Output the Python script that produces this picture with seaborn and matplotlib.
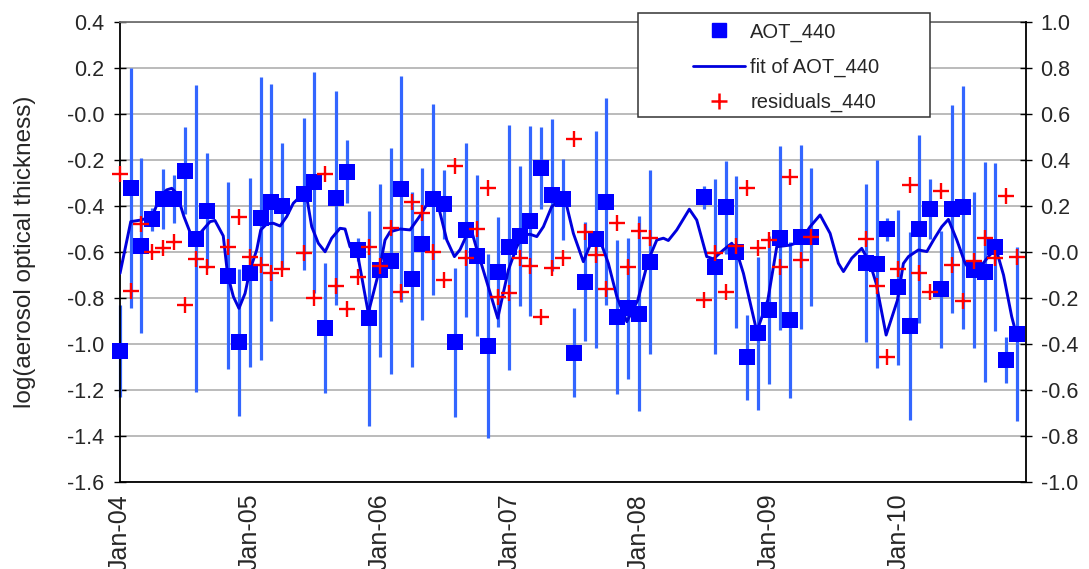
import numpy as np
import pandas as pd
import matplotlib
matplotlib.use("Agg")
import matplotlib.pyplot as plt
import matplotlib.dates as mdates
from matplotlib.lines import Line2D
from matplotlib.patches import Rectangle
from matplotlib.ticker import FixedLocator, NullFormatter, FormatStrFormatter
import seaborn as sns

# Monthly AOT_440 observations (first of month)
months = [
    "2004-01", "2004-02", "2004-03", "2004-04", "2004-05", "2004-06", "2004-07", "2004-08", "2004-09",
    "2004-11", "2004-12",
    "2005-01", "2005-02", "2005-03", "2005-04", "2005-06", "2005-07", "2005-08", "2005-09", "2005-10",
    "2005-11", "2005-12",
    "2006-01", "2006-02", "2006-03", "2006-04", "2006-05", "2006-06", "2006-07", "2006-08", "2006-09",
    "2006-10", "2006-11", "2006-12",
    "2007-01", "2007-02", "2007-03", "2007-04", "2007-05", "2007-06", "2007-07", "2007-08", "2007-09",
    "2007-10", "2007-11", "2007-12",
    "2008-01", "2008-02", "2008-07", "2008-08", "2008-09", "2008-10", "2008-11", "2008-12",
    "2009-01", "2009-02", "2009-03", "2009-04", "2009-05", "2009-10", "2009-11", "2009-12",
    "2010-01", "2010-02", "2010-03", "2010-04", "2010-05", "2010-06", "2010-07", "2010-08", "2010-09",
    "2010-10", "2010-11", "2010-12",
]

aot_440 = [
    -1.030, -0.323, -0.572, -0.457, -0.370, -0.370, -0.246, -0.543, -0.420,
    -0.703, -0.993,
    -0.690, -0.454, -0.384, -0.399, -0.348, -0.297, -0.932, -0.365, -0.251,
    -0.591, -0.888,
    -0.680, -0.639, -0.326, -0.719, -0.565, -0.370, -0.393, -0.993, -0.504,
    -0.617, -1.007, -0.688,
    -0.580, -0.530, -0.465, -0.236, -0.352, -0.370, -1.038, -0.729, -0.545,
    -0.381, -0.881, -0.845,
    -0.869, -0.645, -0.362, -0.664, -0.406, -0.601, -1.058, -0.954,
    -0.852, -0.541, -0.896, -0.533, -0.536, -0.649, -0.652, -0.500,
    -0.754, -0.921, -0.500, -0.413, -0.762, -0.413, -0.406, -0.678, -0.688,
    -0.580, -1.070, -0.958,
]

aot_err = [
    0.200, 0.522, 0.380, 0.050, 0.130, 0.105, 0.190, 0.667, 0.250,
    0.406, 0.320,
    0.410, 0.615, 0.515, 0.275, 0.330, 0.480, 0.283, 0.466, 0.136,
    0.050, 0.468,
    0.375, 0.490, 0.490, 0.380, 0.330, 0.415, 0.150, 0.325, 0.380,
    0.350, 0.400, 0.240,
    0.533, 0.306, 0.415, 0.178, 0.330, 0.176, 0.194, 0.260, 0.472,
    0.450, 0.335, 0.307,
    0.424, 0.400, 0.050, 0.380, 0.203, 0.330, 0.185, 0.334,
    0.320, 0.400, 0.340, 0.400, 0.300, 0.343, 0.453, 0.050,
    0.337, 0.410, 0.407, 0.130, 0.254, 0.453, 0.527, 0.338, 0.479,
    0.365, 0.100, 0.378,
]

residuals_440 = [
    0.339, -0.168, 0.120, 0.001, 0.016, 0.042, -0.230, -0.030, -0.064,
    0.020, 0.151,
    -0.020, -0.057, -0.090, -0.075, -0.006, -0.201, 0.339, -0.146, -0.248,
    -0.110, 0.023,
    -0.062, 0.103, -0.173, 0.219, 0.168, -0.001, -0.120, 0.375, -0.028,
    0.099, 0.277, -0.194,
    -0.180, -0.025, -0.059, -0.284, -0.068, -0.025, 0.491, 0.088, -0.013,
    -0.161, 0.128, -0.064,
    0.093, 0.062, -0.209, -0.003, -0.173, 0.028, 0.280, 0.019,
    0.052, -0.064, 0.328, -0.035, 0.067, 0.056, -0.148, -0.455,
    -0.073, 0.290, -0.090, -0.175, 0.267, -0.057, -0.212, -0.037, 0.062,
    -0.028, 0.243, -0.020,
]

# Fitted curve, sampled in decimal years
fit_years = [
    2004.000, 2004.083, 2004.162, 2004.249, 2004.308, 2004.360, 2004.399, 2004.437, 2004.493,
    2004.553, 2004.584, 2004.630, 2004.694, 2004.732, 2004.796, 2004.830, 2004.874, 2004.917,
    2004.964, 2005.002, 2005.054, 2005.085, 2005.131, 2005.182, 2005.234, 2005.285, 2005.336,
    2005.401, 2005.439, 2005.478, 2005.529, 2005.581, 2005.632, 2005.696, 2005.735, 2005.773,
    2005.830, 2005.914, 2005.999, 2006.043, 2006.082, 2006.159, 2006.236, 2006.326, 2006.377,
    2006.411, 2006.454, 2006.519, 2006.578, 2006.621, 2006.673, 2006.712, 2006.745, 2006.801,
    2006.912, 2006.994, 2007.059, 2007.110, 2007.161, 2007.213, 2007.264, 2007.328, 2007.392,
    2007.444, 2007.495, 2007.572, 2007.624, 2007.662, 2007.701, 2007.765, 2007.830, 2007.907,
    2007.992, 2008.073, 2008.138, 2008.189, 2008.227, 2008.292, 2008.389, 2008.446, 2008.523,
    2008.574, 2008.652, 2008.716, 2008.755, 2008.806, 2008.909, 2008.994, 2009.063, 2009.166,
    2009.243, 2009.320, 2009.397, 2009.474, 2009.538, 2009.577, 2009.641, 2009.718, 2009.782,
    2009.829, 2009.906, 2009.993, 2010.039, 2010.078, 2010.155, 2010.220, 2010.271, 2010.335,
    2010.386, 2010.451, 2010.515, 2010.580, 2010.618, 2010.695, 2010.752, 2010.811, 2010.874,
    2010.906,
]
fit_aot = [
    -0.693, -0.468, -0.461, -0.446, -0.359, -0.330, -0.323, -0.345, -0.446,
    -0.533, -0.545, -0.510, -0.468, -0.463, -0.530, -0.700, -0.794, -0.845,
    -0.780, -0.678, -0.591, -0.504, -0.478, -0.475, -0.487, -0.446, -0.388,
    -0.352, -0.360, -0.490, -0.562, -0.599, -0.540, -0.497, -0.500, -0.577,
    -0.605, -0.865, -0.678, -0.548, -0.512, -0.500, -0.504, -0.432, -0.381,
    -0.374, -0.400, -0.548, -0.620, -0.590, -0.526, -0.512, -0.577, -0.680,
    -0.888, -0.678, -0.577, -0.526, -0.523, -0.533, -0.490, -0.403, -0.374,
    -0.400, -0.519, -0.642, -0.570, -0.536, -0.550, -0.650, -0.794, -0.903,
    -0.809, -0.635, -0.548, -0.540, -0.550, -0.504, -0.414, -0.461, -0.620,
    -0.630, -0.591, -0.562, -0.600, -0.693, -0.946, -0.809, -0.577, -0.570,
    -0.555, -0.490, -0.439, -0.519, -0.649, -0.685, -0.627, -0.584, -0.650,
    -0.736, -0.961, -0.810, -0.650, -0.620, -0.591, -0.598, -0.548, -0.490,
    -0.458, -0.548, -0.649, -0.700, -0.675, -0.620, -0.584, -0.700, -0.881,
    -0.950,
]

year_labels = ["Jan-04", "Jan-05", "Jan-06", "Jan-07", "Jan-08", "Jan-09", "Jan-10"]

sns.set_style("white")
plt.rcParams["font.family"] = ["Liberation Sans", "DejaVu Sans"]

origin = pd.Timestamp("2004-01-01")
obs = pd.DataFrame({
    "date": pd.to_datetime(months),
    "aot": aot_440,
    "err": aot_err,
    "resid": residuals_440,
})
fit = pd.DataFrame({
    "date": origin + pd.to_timedelta((np.array(fit_years) - 2004.0) * 365.25, unit="D"),
    "aot": fit_aot,
})

W, H = 1089, 569
fig = plt.figure(figsize=(W / 100, H / 100), dpi=100)
L, R, T, B = 120, 1026, 22, 482
ax = fig.add_axes([L / W, 1 - B / H, (R - L) / W, (B - T) / H])

# error bars, fitted curve and observations on the left axis
eb = ax.errorbar(obs["date"], obs["aot"], yerr=obs["err"], fmt="none",
                 ecolor="#3366FF", elinewidth=2.3, capsize=0, zorder=2)
for coll in eb.lines[2]:
    coll.set_clip_on(False)
sns.lineplot(data=fit, x="date", y="aot", ax=ax, color="#0000DD", linewidth=2.1,
             sort=False, estimator=None, zorder=3, legend=False,
             solid_joinstyle="round", solid_capstyle="round")
sns.scatterplot(data=obs, x="date", y="aot", ax=ax, marker="s", s=130,
                color="#0000FF", edgecolor="#0000FF", linewidth=0, zorder=4,
                legend=False, clip_on=False)

x0, x1 = origin, pd.Timestamp("2010-12-26")
ax.set_xlim(x0, x1)
ax.set_ylim(-1.6, 0.4)
ax.set_yticks(np.round(np.arange(-1.6, 0.41, 0.2), 1))
ax.yaxis.set_major_formatter(FormatStrFormatter("%.1f"))
ax.grid(axis="y", color="#A8A8A8", linewidth=1.1)
ax.grid(axis="x", visible=False)
ax.set_axisbelow(True)

jan = [mdates.date2num(pd.Timestamp(f"{y}-01-01")) for y in range(2004, 2011)]
jul = [mdates.date2num(pd.Timestamp(f"{y}-07-01")) for y in range(2004, 2011)]
ax.xaxis.set_major_locator(FixedLocator(jan))
ax.xaxis.set_minor_locator(FixedLocator(jul))
ax.set_xticklabels(year_labels, rotation=90, fontsize=18)
ax.xaxis.set_minor_formatter(NullFormatter())
ax.tick_params(axis="x", which="both", direction="inout", length=9, width=1.0,
               color="black", pad=4)
ax.tick_params(axis="y", direction="inout", length=9, width=1.0, color="black",
               labelsize=15.5, pad=7)
ax.set_xlabel("")
ax.set_ylabel("log(aerosol optical thickness)", fontsize=17.5)
ax.yaxis.set_label_coords((36 - L) / (R - L), 0.5)

for side in ("left", "bottom"):
    ax.spines[side].set_color("black")
    ax.spines[side].set_linewidth(1.3)
ax.spines["top"].set_color("#707070")
ax.spines["top"].set_linewidth(1.3)
ax.spines["right"].set_visible(False)

# residuals on the right axis
ax2 = ax.twinx()
sns.scatterplot(data=obs, x="date", y="resid", ax=ax2, marker="+", s=125,
                color="#FF0000", linewidth=1.7, zorder=5, legend=False, clip_on=False)
ax2.set_ylim(-1.0, 1.0)
ax2.set_yticks(np.round(np.arange(-1.0, 1.01, 0.2), 1))
ax2.yaxis.set_major_formatter(FormatStrFormatter("%.1f"))
ax2.set_ylabel("")
ax2.grid(False)
ax2.tick_params(axis="y", direction="inout", length=9, width=1.0, color="black",
                labelsize=15.5, pad=6)
ax2.spines["right"].set_color("black")
ax2.spines["right"].set_linewidth(1.3)
for side in ("left", "top", "bottom"):
    ax2.spines[side].set_visible(False)
ax2.set_xlim(x0, x1)

# legend box
box = Rectangle((638 / W, 1 - 117.3 / H), (930 - 638) / W, (117.3 - 12.7) / H,
                transform=fig.transFigure, facecolor="white", edgecolor="#333333",
                linewidth=1.1, zorder=10)
fig.add_artist(box)
handles = [
    Line2D([], [], marker="s", linestyle="none", color="#0000FF", markersize=10.2),
    Line2D([], [], color="#0000DD", linewidth=2.0),
    Line2D([], [], marker="+", linestyle="none", color="#FF0000", markersize=11, markeredgewidth=1.8),
]
leg = fig.legend(handles, ["AOT_440", "fit of AOT_440", "residuals_440"],
                 loc="upper left", bbox_to_anchor=(693 / W, 1 - 22.5 / H),
                 bbox_transform=fig.transFigure, frameon=False, borderpad=0,
                 borderaxespad=0, fontsize=14.5, handlelength=2.6,
                 handletextpad=0.25, labelspacing=0.8)
leg.set_zorder(11)

fig.savefig("out.png", dpi=100)
